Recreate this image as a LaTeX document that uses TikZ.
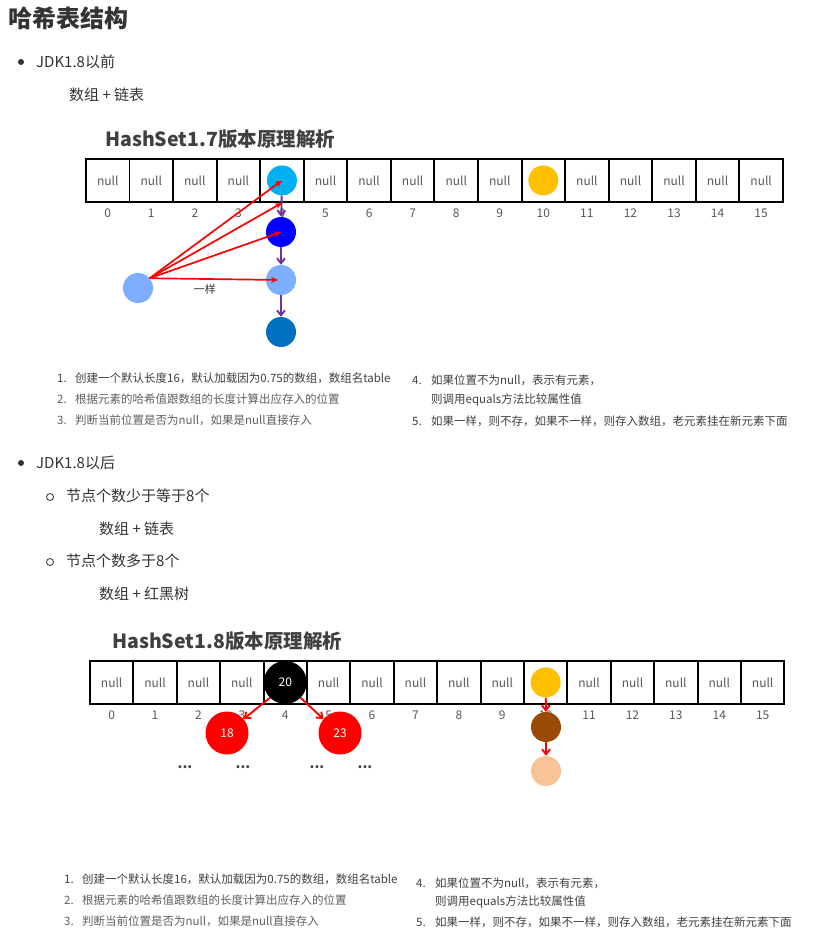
\documentclass[tikz,border=0pt]{standalone}
\usepackage{fontspec}
\setmainfont{Noto Sans CJK SC}
\usetikzlibrary{arrows.meta,positioning}
\definecolor{txtgray}{RGB}{51,51,51}
\definecolor{figgray}{RGB}{64,64,64}
\definecolor{softgray}{RGB}{96,96,96}
\definecolor{nullgray}{RGB}{89,89,89}
\definecolor{skyblue}{RGB}{0,176,240}
\definecolor{pureblue}{RGB}{0,0,255}
\definecolor{paleblue}{RGB}{125,174,255}
\definecolor{deepblue}{RGB}{0,112,192}
\definecolor{amber}{RGB}{255,192,0}
\definecolor{chainpurple}{RGB}{112,48,160}
\definecolor{rust}{RGB}{152,74,6}
\definecolor{peach}{RGB}{248,195,150}
\tikzset{
  body/.style={anchor=west, inner sep=0pt, text=txtgray, font=\fontsize{15}{18}\selectfont},
  figtitle/.style={anchor=west, inner sep=0pt, text=figgray, font=\fontsize{19.5}{22}\selectfont\bfseries},
  cell/.style={draw, line width=1.9pt, minimum height=43pt, inner sep=0pt, anchor=north west,
    text=nullgray, font=\fontsize{12}{12}\selectfont},
  idx/.style={inner sep=0pt, text=nullgray, font=\fontsize{12}{12}\selectfont},
  ball/.style={circle, minimum size=30pt, inner sep=0pt},
  rbnode/.style={circle, minimum size=43pt, inner sep=0pt, text=white, font=\fontsize{12}{12}\selectfont},
  hit/.style={draw=red, line width=1.7pt, -{Stealth[length=7pt,width=6pt]}},
  chain/.style={draw=chainpurple, line width=1.9pt, -{Straight Barb[length=5pt,width=8pt]}},
  redlink/.style={draw=red, line width=1.9pt, -{Straight Barb[length=5pt,width=8pt]}},
  step item/.style={anchor=west, inner sep=0pt, font=\fontsize{11.5}{14}\selectfont},
  dots/.style={inner sep=0pt, font=\fontsize{14}{14}\selectfont\bfseries, text=figgray}
}
\begin{document}
\begin{tikzpicture}[x=1pt, y=-1pt]
\useasboundingbox[fill=white] (0,0) rectangle (828,941);

\node[body, font=\fontsize{24}{28}\selectfont\bfseries] (head) at (8,18) {哈希表结构};

% JDK1.8 before
\node[circle, fill=txtgray, minimum size=6pt, inner sep=0pt] (dotA) at (21,62) {};
\node[body] (before) at (36,62) {JDK1.8以前};
\node[body] (formA) at (69,95) {数组 + 链表};
\node[figtitle] (titleA) at (105,139) {HashSet1.7版本原理解析};

\foreach \i in {0,...,15} {
  \node[cell, minimum width=43.56pt] (a\i) at (85+43.56*\i,158) {\ifnum\i=4\else\ifnum\i=10\else null\fi\fi};
  \node[idx, below=6pt of a\i] (ia\i) {\i};
}
\node[ball, fill=skyblue] (k0) at (a4.center) {};
\node[ball, fill=amber] (y0) at (a10.center) {};
\node[ball, fill=pureblue] (k1) at (281,232) {};
\node[ball, fill=paleblue] (k2) at (281,280) {};
\node[ball, fill=deepblue] (k3) at (281,332) {};
\node[ball, fill=paleblue] (fresh) at (138,288) {};

\draw[chain] (k0) -- (k1);
\draw[chain] (k1) -- (k2);
\draw[chain] (k2) -- (k3);

\draw[hit] (fresh.40) -- (k0.center);
\draw[hit] (fresh.40) -- (a4.south);
\draw[hit] (fresh.40) -- (k1.center);
\draw[hit, shorten >=3pt] (fresh.40) -- (k2.center)
  node[pos=0.42, below=4pt, inner sep=0pt, text=txtgray, font=\fontsize{11}{11}\selectfont] (same) {一样};

\node[step item, text=figgray] (sA1) at (57,378) {\makebox[18pt][l]{1.}创建一个默认长度16，默认加载因为0.75的数组，数组名table};
\node[step item, text=softgray] (sA2) at (57,399) {\makebox[18pt][l]{2.}根据元素的哈希值跟数组的长度计算出应存入的位置};
\node[step item, text=softgray] (sA3) at (57,420) {\makebox[18pt][l]{3.}判断当前位置是否为null，如果是null直接存入};
\node[step item, text=figgray] (sA4) at (412,380) {\makebox[19pt][l]{4.}如果位置不为null，表示有元素，};
\node[step item, text=figgray] (sA4b) at (431,400) {则调用equals方法比较属性值};
\node[step item, text=figgray] (sA5) at (412,421) {\makebox[19pt][l]{5.}如果一样，则不存，如果不一样，则存入数组，老元素挂在新元素下面};

% JDK1.8 after
\node[circle, fill=txtgray, minimum size=6pt, inner sep=0pt] (dotB) at (21,463) {};
\node[body] (after) at (36,463) {JDK1.8以后};
\node[circle, draw=txtgray, line width=0.8pt, minimum size=7pt, inner sep=0pt] (ringB1) at (50,497) {};
\node[body] (fewer) at (66,496) {节点个数少于等于8个};
\node[body] (formB) at (99,529) {数组 + 链表};
\node[circle, draw=txtgray, line width=0.8pt, minimum size=7pt, inner sep=0pt] (ringB2) at (50,562) {};
\node[body] (more) at (66,561) {节点个数多于8个};
\node[body] (formC) at (99,594) {数组 + 红黑树};
\node[figtitle] (titleB) at (112,641) {HashSet1.8版本原理解析};

\foreach \i in {0,...,15} {
  \node[cell, minimum width=43.4pt] (b\i) at (89+43.4*\i,660) {\ifnum\i=4\else\ifnum\i=10\else null\fi\fi};
  \node[idx, below=6pt of b\i] (ib\i) {\i};
}
\node[rbnode, fill=black] (t0) at (b4.center) {20};
\node[rbnode, fill=red] (t1) at (227,733) {18};
\node[rbnode, fill=red] (t2) at (340,733) {23};
\draw[redlink] (t0.225) -- (t1.40);
\draw[redlink] (t0.-45) -- (t2.140);
\foreach \n/\x in {d1/185, d2/243, d3/317, d4/365} {
  \node[dots] (\n) at (\x,767) {...};
}
\node[ball, fill=amber] (g0) at (b10.center) {};
\node[ball, fill=rust] (g1) at (546,727) {};
\node[ball, fill=peach] (g2) at (546,771) {};
\draw[redlink] (g0) -- (g1);
\draw[redlink] (g1) -- (g2);

\node[step item, text=figgray] (sB1) at (64,879) {\makebox[18pt][l]{1.}创建一个默认长度16，默认加载因为0.75的数组，数组名table};
\node[step item, text=softgray] (sB2) at (64,900) {\makebox[18pt][l]{2.}根据元素的哈希值跟数组的长度计算出应存入的位置};
\node[step item, text=softgray] (sB3) at (64,921) {\makebox[18pt][l]{3.}判断当前位置是否为null，如果是null直接存入};
\node[step item, text=figgray] (sB4) at (416,883) {\makebox[19pt][l]{4.}如果位置不为null，表示有元素，};
\node[step item, text=figgray] (sB4b) at (435,902) {则调用equals方法比较属性值};
\node[step item, text=figgray] (sB5) at (416,922) {\makebox[19pt][l]{5.}如果一样，则不存，如果不一样，则存入数组，老元素挂在新元素下面};
\end{tikzpicture}
\end{document}
